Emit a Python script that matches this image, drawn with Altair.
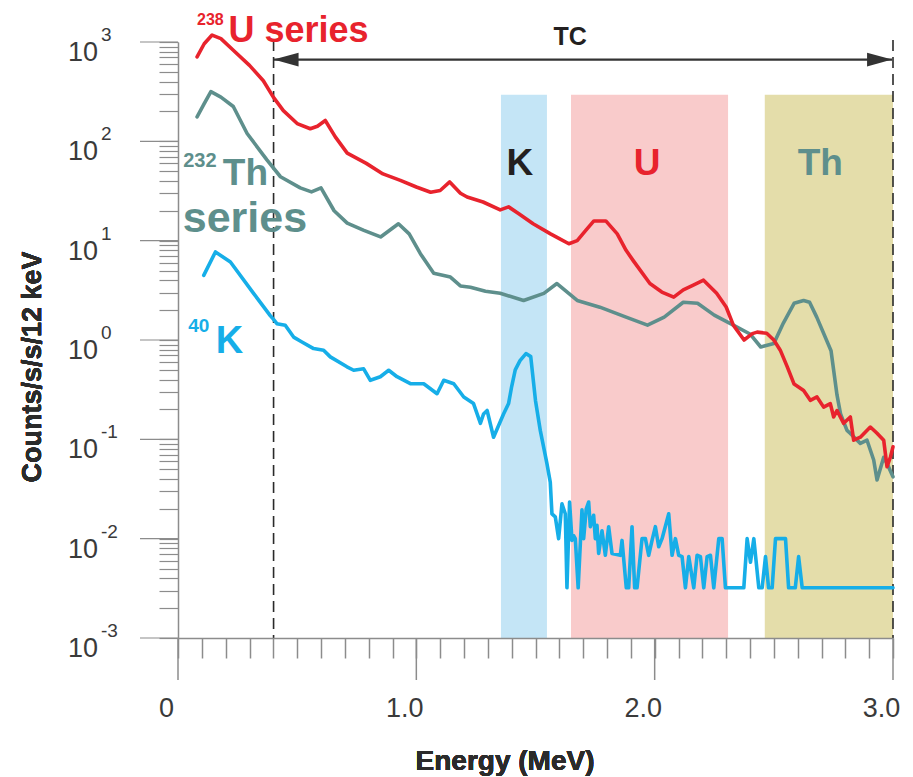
import altair as alt
import pandas as pd

# ---------------- data ----------------
u_energy = [0.08, 0.11, 0.143, 0.18, 0.232, 0.30, 0.358, 0.40, 0.442, 0.50, 0.555, 0.585, 0.618, 0.66,
            0.71, 0.79, 0.86, 0.933, 1.00, 1.06, 1.10, 1.14, 1.185, 1.213, 1.28, 1.352, 1.387, 1.43,
            1.49, 1.563, 1.60, 1.64, 1.675, 1.71, 1.745, 1.795, 1.843, 1.88, 1.91, 1.98, 2.03, 2.08,
            2.12, 2.16, 2.205, 2.26, 2.30, 2.33, 2.375, 2.41, 2.43, 2.47, 2.50, 2.527, 2.556, 2.585,
            2.625, 2.653, 2.681, 2.709, 2.737, 2.751, 2.765, 2.793, 2.821, 2.835, 2.863, 2.905, 2.933,
            2.961, 2.975, 2.989, 3.0]
u_counts = [708, 960, 1175, 1080, 825, 582, 407, 279, 204, 151, 134, 142, 162, 111,
            76, 60, 47, 40.5, 34.7, 30.7, 32, 39, 30, 27.5, 24.5, 20.4, 21.9, 18.7,
            14.8, 11.7, 10.5, 9.3, 10, 12.6, 15.8, 15.8, 11.7, 8.0, 6.3, 3.7, 3.04, 2.7,
            3.2, 3.55, 4.0, 2.95, 2.15, 1.41, 1.0, 1.16, 1.2, 1.17, 1.0, 0.79, 0.54, 0.36,
            0.31, 0.247, 0.267, 0.211, 0.229, 0.168, 0.195, 0.145, 0.168, 0.098, 0.105, 0.133, 0.115,
            0.098, 0.053, 0.066, 0.084]

th_energy = [0.08, 0.11, 0.138, 0.18, 0.232, 0.29, 0.373, 0.43, 0.513, 0.56, 0.60, 0.655, 0.71,
             0.78, 0.85, 0.925, 0.97, 1.017, 1.073, 1.143, 1.185, 1.227, 1.29, 1.352, 1.45, 1.535,
             1.59, 1.675, 1.77, 1.88, 1.97, 2.04, 2.12, 2.18, 2.25, 2.33, 2.40, 2.445, 2.50, 2.54,
             2.585, 2.625, 2.65, 2.68, 2.74, 2.765, 2.78, 2.807, 2.82, 2.863, 2.891, 2.919, 2.933,
             2.961, 2.975, 3.0]
th_counts = [176, 240, 316, 279, 224, 120, 65, 44, 34, 31, 34, 20, 15,
             12.7, 10.9, 14.8, 11.7, 7.4, 4.7, 4.3, 3.5, 3.4, 3.1, 2.95, 2.5, 2.95,
             3.7, 2.5, 2.14, 1.7, 1.41, 1.7, 2.4, 2.34, 1.78, 1.41, 1.15, 0.85, 0.92, 1.48,
             2.34, 2.5, 2.4, 1.7, 0.78, 0.28, 0.18, 0.123, 0.115, 0.091, 0.098, 0.062, 0.039,
             0.066, 0.057, 0.042]

k_energy = [0.108, 0.157, 0.22, 0.317, 0.387, 0.40, 0.415, 0.45, 0.485, 0.52, 0.569, 0.611, 0.639,
            0.709, 0.737, 0.779, 0.807, 0.849, 0.884, 0.919, 0.975, 1.031, 1.087, 1.115, 1.157,
            1.199, 1.24, 1.269, 1.282, 1.297, 1.324, 1.366, 1.387, 1.400, 1.415, 1.435, 1.46, 1.48,
            1.50, 1.52, 1.548, 1.562,
            1.569, 1.583, 1.597, 1.611, 1.625, 1.632, 1.643, 1.653, 1.660, 1.667, 1.679, 1.695,
            1.702, 1.713, 1.723, 1.730, 1.744, 1.751, 1.758, 1.765, 1.779, 1.793, 1.807, 1.821,
            1.856, 1.863, 1.881, 1.891, 1.905, 1.916, 1.926, 1.947, 1.961, 1.975, 1.989, 2.003,
            2.017, 2.031, 2.059, 2.073, 2.087, 2.101, 2.115, 2.129, 2.143, 2.164, 2.178, 2.192,
            2.206, 2.220, 2.234, 2.248, 2.269, 2.283, 2.297, 2.374, 2.388, 2.402, 2.416, 2.437,
            2.451, 2.465, 2.478, 2.493, 2.507, 2.549, 2.562, 2.590, 2.604, 2.619, 3.0]
k_counts = [4.47, 7.7, 6.1, 2.95, 1.76, 1.62, 1.46, 1.41, 1.07, 0.955, 0.82, 0.79, 0.676,
            0.537, 0.496, 0.513, 0.393, 0.427, 0.496, 0.427, 0.363, 0.363, 0.288, 0.393, 0.363,
            0.267, 0.229, 0.145, 0.18, 0.195, 0.105, 0.18, 0.229, 0.34, 0.50, 0.62, 0.73, 0.68,
            0.245, 0.123, 0.057, 0.037,
            0.0178, 0.0166, 0.010, 0.0224, 0.0178, 0.0032, 0.0234, 0.0096, 0.0107, 0.010, 0.0032, 0.0195,
            0.010, 0.020, 0.0234, 0.0132, 0.0172, 0.010, 0.0136, 0.0071, 0.012, 0.0068, 0.0132, 0.0071,
            0.0068, 0.0096, 0.0032, 0.0032, 0.0132, 0.0032, 0.0032, 0.010, 0.010, 0.0068, 0.0096, 0.0132,
            0.0083, 0.010, 0.0178, 0.0068, 0.010, 0.0068, 0.0066, 0.0032, 0.0066, 0.0032, 0.0068, 0.0066,
            0.0032, 0.0066, 0.0068, 0.0032, 0.010, 0.010, 0.0032, 0.0032, 0.010, 0.0058, 0.010, 0.0032,
            0.0032, 0.0066, 0.0032, 0.0032, 0.010, 0.010, 0.0032, 0.0032, 0.0066, 0.0032, 0.0032]

band_names = ["K", "U", "Th"]
band_start = [1.355, 1.649, 2.462]
band_end = [1.548, 2.308, 3.0]
band_top = 295
band_fill = ["#c4e5f6", "#f9cbcb", "#e4ddaa"]
band_label_x = [1.434, 1.968, 2.695]
band_label_val = 45.5

tc_start, tc_end, tc_val = 0.401, 2.996, 665
dashed_x = [0.401, 3.0]
dashed_top = 1050

x_ticks = [round(i * 0.1, 1) for i in range(31)]
x_major = [0, 1, 2, 3]
y_decades = [-3, -2, -1, 0, 1, 2, 3]
y_ticks = [m * 10.0 ** d for d in range(-3, 3) for m in range(1, 10)] + [1000.0]

RED, TEAL, BLUE, DARK = "#e8232d", "#5e8f8c", "#16aee8", "#231f20"
AXIS_GREY = "#8c8c8c"
FONT = "Liberation Sans"

# ---------------- tables ----------------
lines = pd.concat([
    pd.DataFrame({"E": k_energy, "v": k_counts, "s": "K", "col": BLUE, "o": 0}),
    pd.DataFrame({"E": th_energy, "v": th_counts, "s": "Th", "col": TEAL, "o": 1}),
    pd.DataFrame({"E": u_energy, "v": u_counts, "s": "U", "col": RED, "o": 2}),
], ignore_index=True)
lines["i"] = range(len(lines))

bands = pd.DataFrame({"name": band_names, "x1": band_start, "x2": band_end,
                      "top": band_top, "bot": 0.001, "fill": band_fill})

series_lab = pd.DataFrame({
    "t": ["238", "U series", "232", "Th", "series", "40", "K"],
    "E": [0.080, 0.212, 0.022, 0.188, 0.020, 0.043, 0.158],
    "v": [1472, 1000, 54.8, 36.1, 12.1, 1.19, 0.734],
    "fs": [16, 36, 20, 37, 43, 19, 38],
    "col": [RED, RED, TEAL, TEAL, TEAL, BLUE, BLUE],
})
center_lab = pd.DataFrame({
    "t": band_names + ["TC"],
    "E": band_label_x + [1.645],
    "v": [band_label_val] * 3 + [926],
    "fs": [37, 37, 37, 25],
    "col": [DARK, RED, TEAL, DARK],
})
decades = pd.DataFrame({"v": [10.0 ** d for d in y_decades], "exp": [str(d) for d in y_decades]})
tc_line = pd.DataFrame({"E": [tc_start], "E2": [tc_end], "v": [tc_val]})
tc_heads = pd.DataFrame({"E": [tc_start, tc_end], "v": [tc_val, tc_val],
                         "shp": ["M0,0L2,-0.55L2,0.55Z", "M0,0L-2,-0.55L-2,0.55Z"]})
dashes = pd.DataFrame({"E": dashed_x, "top": dashed_top, "bot": 0.001})
majors = pd.DataFrame({"E": x_major})

# ---------------- scales / axes ----------------
xs = alt.Scale(domain=[0, 3], nice=False, zero=False)
ys = alt.Scale(type="log", domain=[0.001, 1000], nice=False)
xaxis = alt.Axis(values=x_ticks, tickSize=20, tickWidth=1.5, tickColor=AXIS_GREY,
                 domainColor=AXIS_GREY, domainWidth=1.5, grid=False, title=None,
                 labelExpr="datum.value == 0 ? '0' : ((datum.value == 1 || datum.value == 2 || datum.value == 3) ? format(datum.value, '.1f') : '')",
                 labelFont=FONT, labelFontSize=27, labelColor="#3a3a3a", labelPadding=37,
                 labelOffset=-12, labelFlush=False, labelOverlap=False, zindex=1)
yaxis = alt.Axis(values=y_ticks, tickSize=19, tickWidth=1.2, tickColor=AXIS_GREY,
                 domainColor=AXIS_GREY, domainWidth=1.5, grid=False, title=None,
                 labels=False, zindex=1)


def X(f):
    return alt.X(f, type="quantitative", scale=xs, axis=xaxis)


def Y(f):
    return alt.Y(f, type="quantitative", scale=ys, axis=yaxis)


band_layer = alt.Chart(bands).mark_rect().encode(
    x=X("x1"), x2="x2", y=Y("top"), y2="bot",
    color=alt.Color("fill:N", scale=None))

dash_layer = alt.Chart(dashes).mark_rule(color="#2a2a2a", strokeWidth=1.6, strokeDash=[11, 6]).encode(
    x=X("E"), y=Y("top"), y2="bot")

tc_rule = alt.Chart(tc_line).mark_rule(color="#333333", strokeWidth=2.2).encode(
    x=X("E"), x2="E2", y=Y("v"))

tc_head = alt.Chart(tc_heads).mark_point(filled=True, size=625, opacity=1, color="#333333", strokeWidth=0).encode(
    x=X("E"), y=Y("v"), shape=alt.Shape("shp:N", scale=None))

line_layer = alt.Chart(lines).mark_line(strokeWidth=3.6, strokeJoin="round", strokeCap="round",
                                        interpolate="linear").encode(
    x=X("E"), y=Y("v"), detail="s:N", order=alt.Order("i:Q"),
    color=alt.Color("col:N", scale=None))

series_text = alt.Chart(series_lab).mark_text(font=FONT, fontWeight="bold", align="left",
                                               baseline="alphabetic").encode(
    x=X("E"), y=Y("v"), text="t:N", size=alt.Size("fs:Q", scale=None),
    color=alt.Color("col:N", scale=None))

center_text = alt.Chart(center_lab).mark_text(font=FONT, fontWeight="bold", align="center",
                                               baseline="alphabetic").encode(
    x=X("E"), y=Y("v"), text="t:N", size=alt.Size("fs:Q", scale=None),
    color=alt.Color("col:N", scale=None))

ymajor = alt.Chart(decades).mark_rule(color=AXIS_GREY, strokeWidth=1.2).encode(
    x=alt.value(-38), x2=alt.value(0), y=Y("v"))

xmajor = alt.Chart(majors).mark_rule(color=AXIS_GREY, strokeWidth=1.5).encode(
    x=X("E"), y=alt.value(596), y2=alt.value(638))

ten_text = alt.Chart(decades).mark_text(font=FONT, fontSize=27, align="right", baseline="middle",
                                        dy=11, color="#3a3a3a").encode(
    x=alt.value(-80), y=Y("v"), text=alt.value("10"))

exp_text = alt.Chart(decades).mark_text(font=FONT, fontSize=19, align="left", baseline="middle",
                                        dy=-7, color="#3a3a3a").encode(
    x=alt.value(-77), y=Y("v"), text="exp:N")

ytitle = alt.Chart(decades).mark_text(font=FONT, fontSize=27, fontWeight="bold", angle=270,
                                      align="center", baseline="middle", color="#2b2b2b").encode(
    x=alt.value(-145), y=alt.value(325), text=alt.value("Counts/s/s/12 keV"))

xtitle = alt.Chart(decades).mark_text(font=FONT, fontSize=28, fontWeight="bold",
                                      align="center", baseline="alphabetic", color="#2b2b2b").encode(
    x=alt.value(327), y=alt.value(728), text=alt.value("Energy (MeV)"))

chart = alt.layer(
    band_layer, dash_layer, tc_rule, tc_head, line_layer, series_text, center_text,
    ymajor, xmajor, ten_text, exp_text, ytitle, xtitle
).properties(
    width=715, height=596,
    autosize=alt.AutoSizeParams(type="none"),
    padding={"left": 178, "top": 42, "right": 20, "bottom": 139},
).configure_view(stroke=None)

chart.save("out.html", embed_options={"renderer": "svg", "actions": False})
